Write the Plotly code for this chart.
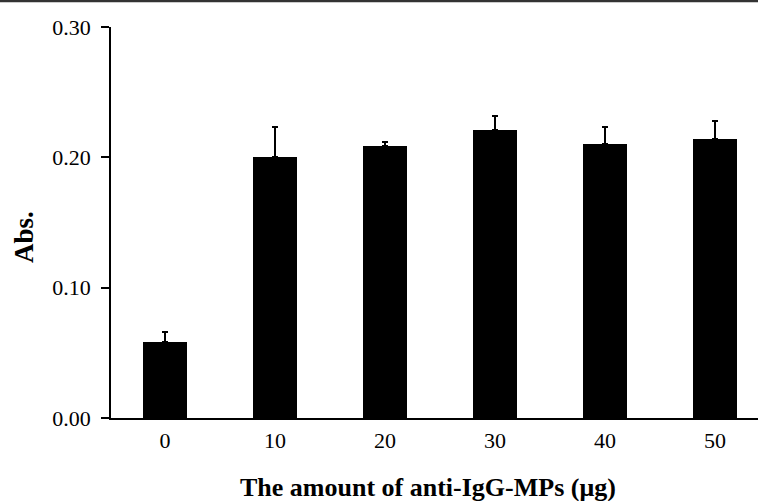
import plotly.graph_objects as go

categories = ["0", "10", "20", "30", "40", "50"]
values = [0.058, 0.200, 0.209, 0.221, 0.210, 0.214]
errors = [0.008, 0.023, 0.003, 0.011, 0.0135, 0.0135]
y_ticks = [0.0, 0.1, 0.2, 0.3]
y_tick_labels = ["0.00", "0.10", "0.20", "0.30"]

pos = list(range(len(categories)))

fig = go.Figure()
fig.add_trace(go.Bar(
    x=pos, y=values, width=0.4,
    marker=dict(color="black", line=dict(width=0)),
    error_y=dict(type="data", symmetric=False, array=errors,
                 arrayminus=[0] * len(errors),
                 color="black", thickness=2, width=3),
))

W, H = 758, 501
L, T, B, R = 111, 27, 83, 0
pw, ph = W - L - R, H - T - B

def px_x(p):
    return (p - L) / pw

def px_y(p):
    return (H - B - p) / ph

fig.update_layout(
    width=W, height=H,
    margin=dict(l=L, r=R, t=T, b=B, pad=0),
    plot_bgcolor="white", paper_bgcolor="white",
    showlegend=False, bargap=0,
    font=dict(family="Liberation Serif", size=22, color="black"),
    xaxis=dict(
        range=[-0.49, -0.49 + pw / 110.0],
        tickmode="array", tickvals=pos, ticktext=categories,
        showline=True, linecolor="black", linewidth=1.5,
        ticks="", showgrid=False, zeroline=False,
        ticklabelstandoff=2,
        tickfont=dict(family="Liberation Serif", size=22, color="black"),
    ),
    yaxis=dict(
        range=[0, 0.30],
        tickmode="array", tickvals=y_ticks, ticktext=y_tick_labels,
        showline=True, linecolor="black", linewidth=1.5,
        ticks="outside", ticklen=8, tickwidth=1.5, tickcolor="black",
        showgrid=False, zeroline=False,
        ticklabelstandoff=6,
        tickfont=dict(family="Liberation Serif", size=22, color="black"),
    ),
    annotations=[
        dict(text="<b>The amount of anti-IgG-MPs (μg)</b>",
             xref="paper", yref="paper",
             x=px_x(428), y=px_y(487),
             xanchor="center", yanchor="middle", showarrow=False,
             font=dict(family="Liberation Serif", size=26, color="black")),
        dict(text="<b>Abs.</b>",
             xref="paper", yref="paper",
             x=px_x(24), y=px_y(237),
             xanchor="center", yanchor="middle", showarrow=False,
             textangle=-90,
             font=dict(family="Liberation Serif", size=27, color="black")),
    ],
    shapes=[
        dict(type="line", xref="paper", yref="paper",
             x0=px_x(-5), x1=px_x(765),
             y0=px_y(1), y1=px_y(1),
             line=dict(color="#333333", width=2.5)),
    ],
)

fig.write_html("out.html", config={"displayModeBar": False},
               post_script="document.body.style.margin='0px';")
